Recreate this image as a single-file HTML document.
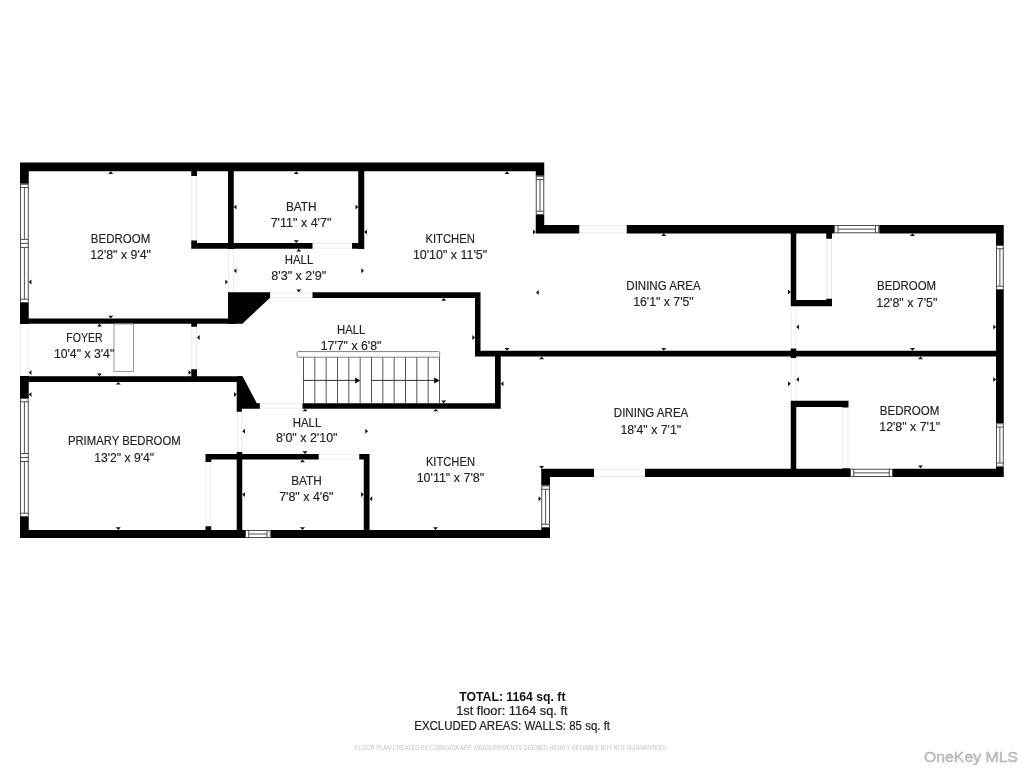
<!DOCTYPE html><html><head><meta charset="utf-8"><style>html,body{margin:0;padding:0;background:#fff;}svg{display:block;will-change:transform;}text{font-family:"Liberation Sans",sans-serif;}</style></head><body>
<svg width="1024" height="768" viewBox="0 0 1024 768">
<rect x="0" y="0" width="1024" height="768" fill="#fff"/>
<path d="M20.5 324V376M28.25 324V376" stroke="#ebebeb" stroke-width="1" fill="none"/>
<path d="M191.75 176V240.5M196.5 176V240.5" stroke="#ebebeb" stroke-width="1" fill="none"/>
<path d="M228.5 249V292.2M233.25 249V292.2" stroke="#ebebeb" stroke-width="1" fill="none"/>
<path d="M270.1 292.7H312.5M270.1 297.5H312.5" stroke="#ebebeb" stroke-width="1" fill="none"/>
<path d="M312.5 243.5H352M312.5 248.25H352" stroke="#ebebeb" stroke-width="1" fill="none"/>
<path d="M579.25 225.5H626.75M579.25 232.75H626.75" stroke="#ebebeb" stroke-width="1" fill="none"/>
<path d="M191.75 326.8V369.2M196.5 326.8V369.2" stroke="#ebebeb" stroke-width="1" fill="none"/>
<path d="M259.85 403.8H302.5M259.85 408.15H302.5" stroke="#ebebeb" stroke-width="1" fill="none"/>
<path d="M237.2 411.7V452M241.75 411.7V452" stroke="#ebebeb" stroke-width="1" fill="none"/>
<path d="M318.75 454.4H359.25M318.75 459H359.25" stroke="#ebebeb" stroke-width="1" fill="none"/>
<path d="M206 462V526.25M210.75 462V526.25" stroke="#ebebeb" stroke-width="1" fill="none"/>
<path d="M826.75 238.75V298.75M831.5 238.75V298.75" stroke="#ebebeb" stroke-width="1" fill="none"/>
<path d="M791.25 306.25V348.5M795.75 306.25V348.5" stroke="#ebebeb" stroke-width="1" fill="none"/>
<path d="M791.25 358V400.75M795.75 358V400.75" stroke="#ebebeb" stroke-width="1" fill="none"/>
<path d="M842.75 407.5V468.25M848 407.5V468.25" stroke="#ebebeb" stroke-width="1" fill="none"/>
<path d="M594 469.25H645M594 476.5H645" stroke="#ebebeb" stroke-width="1" fill="none"/>
<path d="M20 162.5H544.25V171.25H20ZM20 162.5H28.75V183.75H20ZM20 303H28.75V324H20ZM20 376H28.75V398H20ZM20 517H28.75V538H20ZM20 530H245V538H20ZM270.75 530H550V538H270.75ZM535.75 162.5H544.25V175.75H535.75ZM535.75 215H544.25V233.25H535.75ZM535.75 225H579.25V233.5H535.75ZM626.75 225H834.25V233.5H626.75ZM879.25 225H1003.75V233.5H879.25ZM996 225H1003.75V245H996ZM996 290H1003.75V423.25H996ZM996 466.75H1003.75V477H996ZM541.25 468.75H594V477H541.25ZM645 468.75H850V477H645ZM893 468.75H1003.75V477H893ZM541.25 468.75H550V485.5H541.25ZM541.25 528H550V538H541.25ZM20 318.5H236V323.75H20ZM228 171H233.75V249H228ZM191.25 171H197V176H191.25ZM191.25 240.5H197V248.75H191.25ZM191.25 243H312.5V248.75H191.25ZM352 243H364.25V248.75H352ZM358.25 171H364.25V249H358.25ZM312.5 292.2H480.5V298H312.5ZM475 292.2H480.5V356.25H475ZM475 350.75H996V356.5H475ZM191.25 323.75H197V326.8H191.25ZM191.25 369.2H197V376.2H191.25ZM20 376.2H242V381.9H20ZM302.5 403.3H500.75V408.65H302.5ZM495 350.75H500.75V408.65H495ZM205.5 453.9H318.75V459.5H205.5ZM359.25 453.9H369.5V459.5H359.25ZM205.5 453.9H211.25V462H205.5ZM205.5 526.25H211.25V530H205.5ZM236.7 452H242.25V538H236.7ZM363.75 453.9H369.5V538H363.75ZM790.75 225H796.25V306.25H790.75ZM790.75 300H832V306.25H790.75ZM826.25 233H832V238.75H826.25ZM826.25 298.75H832V306.25H826.25ZM790.75 348.5H796.25V358H790.75ZM790.75 400.75H848.5V407H790.75ZM790.75 400.75H796.25V477H790.75ZM842.25 400.75H848.5V407.5H842.25ZM842.25 468.25H850V477H842.25Z" fill="#000"/>
<polygon points="228,292.2 270.1,292.2 270.1,297.7 242.3,323.75 228,323.75" fill="#000"/>
<polygon points="236.7,376.2 242.6,376.2 256.8,403.3 259.85,403.3 259.85,408.65 241.9,408.65 241.9,411.7 236.7,411.7" fill="#000"/>
<rect x="20.5" y="184.25" width="7.75" height="118.25" fill="#fff" stroke="#4d4d4d" stroke-width="1"/>
<path d="M20 187.5H28.75M20 299.25H28.75M20 239.4H28.75M20 243.4H28.75M20 247.4H28.75" stroke="#4d4d4d" stroke-width="1"/>
<path d="M24.38 187.5V239.4" stroke="#4d4d4d" stroke-width="1"/>
<path d="M24.38 247.4V299.25" stroke="#4d4d4d" stroke-width="1"/>
<rect x="20.5" y="398.5" width="7.75" height="118" fill="#fff" stroke="#4d4d4d" stroke-width="1"/>
<path d="M20 401.75H28.75M20 513.25H28.75M20 453.5H28.75M20 457.5H28.75M20 461.5H28.75" stroke="#4d4d4d" stroke-width="1"/>
<path d="M24.38 401.75V453.5" stroke="#4d4d4d" stroke-width="1"/>
<path d="M24.38 461.5V513.25" stroke="#4d4d4d" stroke-width="1"/>
<rect x="536.25" y="176.25" width="7.5" height="38.25" fill="#fff" stroke="#4d4d4d" stroke-width="1"/>
<path d="M535.75 179.5H544.25M535.75 211.25H544.25" stroke="#4d4d4d" stroke-width="1"/>
<path d="M540 179.5V211.25" stroke="#4d4d4d" stroke-width="1"/>
<rect x="834.75" y="225.5" width="44" height="7.25" fill="#fff" stroke="#4d4d4d" stroke-width="1"/>
<path d="M838 225V233.25M875.5 225V233.25" stroke="#4d4d4d" stroke-width="1"/>
<path d="M838 229.12H875.5" stroke="#4d4d4d" stroke-width="1"/>
<rect x="996.5" y="245.5" width="6.75" height="44" fill="#fff" stroke="#4d4d4d" stroke-width="1"/>
<path d="M996 248.75H1003.75M996 286.25H1003.75" stroke="#4d4d4d" stroke-width="1"/>
<path d="M999.88 248.75V286.25" stroke="#4d4d4d" stroke-width="1"/>
<rect x="996.5" y="423.75" width="6.75" height="42.5" fill="#fff" stroke="#4d4d4d" stroke-width="1"/>
<path d="M996 427H1003.75M996 463H1003.75" stroke="#4d4d4d" stroke-width="1"/>
<path d="M999.88 427V463" stroke="#4d4d4d" stroke-width="1"/>
<rect x="850.5" y="469.25" width="42" height="7.25" fill="#fff" stroke="#4d4d4d" stroke-width="1"/>
<path d="M853.75 468.75V477M889.25 468.75V477" stroke="#4d4d4d" stroke-width="1"/>
<path d="M853.75 472.88H889.25" stroke="#4d4d4d" stroke-width="1"/>
<rect x="541.75" y="486" width="7.75" height="41.5" fill="#fff" stroke="#4d4d4d" stroke-width="1"/>
<path d="M541.25 489.25H550M541.25 524.25H550" stroke="#4d4d4d" stroke-width="1"/>
<path d="M545.62 489.25V524.25" stroke="#4d4d4d" stroke-width="1"/>
<rect x="245.5" y="530.5" width="24.75" height="7" fill="#fff" stroke="#4d4d4d" stroke-width="1"/>
<path d="M248.75 530V538M267 530V538" stroke="#4d4d4d" stroke-width="1"/>
<path d="M248.75 534H267" stroke="#4d4d4d" stroke-width="1"/>
<path d="M110.75 171.25L108.25 173.95H113.25ZM110.75 318.5L108.25 315.8H113.25ZM28.75 282L31.45 279.5V284.5ZM228 282L225.3 279.5V284.5ZM296.25 171.25L293.75 173.95H298.75ZM233.75 207L236.45 204.5V209.5ZM358.25 207L355.55 204.5V209.5ZM296.25 243L293.75 240.3H298.75ZM298.75 248.75L296.25 251.45H301.25ZM233.75 270.75L236.45 268.25V273.25ZM364 270.75L361.3 268.25V273.25ZM298.75 292.2L296.25 289.5H301.25ZM507 171.25L504.5 173.95H509.5ZM507 350.75L504.5 348.05H509.5ZM364.25 232L366.95 229.5V234.5ZM535.75 232L533.05 229.5V234.5ZM443.75 298L441.25 300.7H446.25ZM475 337.5L472.3 335V340ZM197 337.5L199.7 335V340ZM443.75 403.3L441.25 400.6H446.25ZM663.75 233.25L661.25 235.95H666.25ZM790.75 292L788.05 289.5V294.5ZM536 292.5L538.7 290V295ZM663.75 350.75L661.25 348.05H666.25ZM912.5 233.25L910 235.95H915ZM796.25 327L798.95 324.5V329.5ZM996 327L993.3 324.5V329.5ZM912.5 350.75L910 348.05H915ZM99.5 323.75L97 326.45H102ZM99.5 376.2L97 373.5H102ZM28.75 372.5L31.45 370V375ZM191.25 372.5L188.55 370V375ZM118.25 381.9L115.75 384.6H120.75ZM28.75 394.5L31.45 392V397ZM236.7 394.5L234 392V397ZM118.25 530L115.75 527.3H120.75ZM305 408.65L302.5 411.35H307.5ZM242.25 431.25L244.95 428.75V433.75ZM368 431.25L365.3 428.75V433.75ZM305 453.9L302.5 451.2H307.5ZM302.5 459.5L300 462.2H305ZM242.25 494.5L244.95 492V497ZM363.75 494.5L361.05 492V497ZM302.5 530L300 527.3H305ZM435.75 408.65L433.25 411.35H438.25ZM369.5 498.75L372.2 496.25V501.25ZM541.25 498.75L538.55 496.25V501.25ZM435.5 530L433 527.3H438ZM541.6 356.5L539.1 359.2H544.1ZM500.75 383.75L503.45 381.25V386.25ZM790.75 383.75L788.05 381.25V386.25ZM541.6 468.75L539.1 466.05H544.1ZM920.5 356.5L918 359.2H923ZM796.25 379.5L798.95 377V382ZM996 379.5L993.3 377V382ZM920.5 468.25L918 465.55H923Z" fill="#111"/>
<rect x="114" y="324" width="19.5" height="47.5" fill="none" stroke="#9a9a9a" stroke-width="1"/>
<rect x="297.1" y="351.6" width="142.6" height="5.6" rx="1" fill="#fff" stroke="#808080" stroke-width="1"/>
<path d="M303.5 357.2V403.3M314.83 357.2V403.3M326.17 357.2V403.3M337.5 357.2V403.3M348.83 357.2V403.3M360.17 357.2V403.3M371.5 357.2V403.3M382.83 357.2V403.3M394.17 357.2V403.3M405.5 357.2V403.3M416.83 357.2V403.3M428.17 357.2V403.3M439.5 357.2V403.3" stroke="#555" stroke-width="1"/>
<path d="M303.5 380.4H356M371.5 380.4H435" stroke="#333" stroke-width="1"/>
<polygon points="355.1,377.6 360.2,380.4 355.1,383.4" fill="#000"/>
<polygon points="434.2,377.6 439.7,380.4 434.2,383.4" fill="#000"/>
<text x="90.84" y="242.8" font-size="12.2" fill="#222" stroke="#222" stroke-width="0.15" textLength="59.4" lengthAdjust="spacingAndGlyphs">BEDROOM</text>
<text x="90.2" y="258.75" font-size="12.2" fill="#222" stroke="#222" stroke-width="0.15" textLength="60.8" lengthAdjust="spacingAndGlyphs">12'8&quot; x 9'4&quot;</text>
<text x="285.9" y="210.6" font-size="12.2" fill="#222" stroke="#222" stroke-width="0.15" textLength="30.75" lengthAdjust="spacingAndGlyphs">BATH</text>
<text x="270.65" y="226.9" font-size="12.2" fill="#222" stroke="#222" stroke-width="0.15" textLength="60.8" lengthAdjust="spacingAndGlyphs">7'11&quot; x 4'7&quot;</text>
<text x="284.8" y="264.4" font-size="12.2" fill="#222" stroke="#222" stroke-width="0.15" textLength="28.5" lengthAdjust="spacingAndGlyphs">HALL</text>
<text x="271.3" y="280" font-size="12.2" fill="#222" stroke="#222" stroke-width="0.15" textLength="54.9" lengthAdjust="spacingAndGlyphs">8'3&quot; x 2'9&quot;</text>
<text x="425.4" y="242.75" font-size="12.2" fill="#222" stroke="#222" stroke-width="0.15" textLength="49.4" lengthAdjust="spacingAndGlyphs">KITCHEN</text>
<text x="412.9" y="258.75" font-size="12.2" fill="#222" stroke="#222" stroke-width="0.15" textLength="74.2" lengthAdjust="spacingAndGlyphs">10'10&quot; x 11'5&quot;</text>
<text x="626.3" y="289.75" font-size="12.2" fill="#222" stroke="#222" stroke-width="0.15" textLength="74.35" lengthAdjust="spacingAndGlyphs">DINING AREA</text>
<text x="633.15" y="306" font-size="12.2" fill="#222" stroke="#222" stroke-width="0.15" textLength="60.55" lengthAdjust="spacingAndGlyphs">16'1&quot; x 7'5&quot;</text>
<text x="877" y="290.2" font-size="12.2" fill="#222" stroke="#222" stroke-width="0.15" textLength="59.15" lengthAdjust="spacingAndGlyphs">BEDROOM</text>
<text x="876.3" y="306.6" font-size="12.2" fill="#222" stroke="#222" stroke-width="0.15" textLength="61" lengthAdjust="spacingAndGlyphs">12'8&quot; x 7'5&quot;</text>
<text x="66.3" y="342.3" font-size="12.2" fill="#222" stroke="#222" stroke-width="0.15" textLength="36.2" lengthAdjust="spacingAndGlyphs">FOYER</text>
<text x="53.9" y="358.4" font-size="12.2" fill="#222" stroke="#222" stroke-width="0.15" textLength="60.4" lengthAdjust="spacingAndGlyphs">10'4&quot; x 3'4&quot;</text>
<text x="337" y="333.8" font-size="12.2" fill="#222" stroke="#222" stroke-width="0.15" textLength="28.4" lengthAdjust="spacingAndGlyphs">HALL</text>
<text x="320.7" y="350" font-size="12.2" fill="#222" stroke="#222" stroke-width="0.15" textLength="60.75" lengthAdjust="spacingAndGlyphs">17'7&quot; x 6'8&quot;</text>
<text x="292.7" y="426.7" font-size="12.2" fill="#222" stroke="#222" stroke-width="0.15" textLength="28.6" lengthAdjust="spacingAndGlyphs">HALL</text>
<text x="276.1" y="442.3" font-size="12.2" fill="#222" stroke="#222" stroke-width="0.15" textLength="61.4" lengthAdjust="spacingAndGlyphs">8'0&quot; x 2'10&quot;</text>
<text x="67.9" y="445.1" font-size="12.2" fill="#222" stroke="#222" stroke-width="0.15" textLength="112.75" lengthAdjust="spacingAndGlyphs">PRIMARY BEDROOM</text>
<text x="94.15" y="461.5" font-size="12.2" fill="#222" stroke="#222" stroke-width="0.15" textLength="60.05" lengthAdjust="spacingAndGlyphs">13'2&quot; x 9'4&quot;</text>
<text x="291.15" y="484.5" font-size="12.2" fill="#222" stroke="#222" stroke-width="0.15" textLength="30.65" lengthAdjust="spacingAndGlyphs">BATH</text>
<text x="279.2" y="500.5" font-size="12.2" fill="#222" stroke="#222" stroke-width="0.15" textLength="54.3" lengthAdjust="spacingAndGlyphs">7'8&quot; x 4'6&quot;</text>
<text x="425.9" y="465.5" font-size="12.2" fill="#222" stroke="#222" stroke-width="0.15" textLength="49.1" lengthAdjust="spacingAndGlyphs">KITCHEN</text>
<text x="416.65" y="481.75" font-size="12.2" fill="#222" stroke="#222" stroke-width="0.15" textLength="67.55" lengthAdjust="spacingAndGlyphs">10'11&quot; x 7'8&quot;</text>
<text x="613.8" y="417.4" font-size="12.2" fill="#222" stroke="#222" stroke-width="0.15" textLength="74.5" lengthAdjust="spacingAndGlyphs">DINING AREA</text>
<text x="620.4" y="433.6" font-size="12.2" fill="#222" stroke="#222" stroke-width="0.15" textLength="60.8" lengthAdjust="spacingAndGlyphs">18'4&quot; x 7'1&quot;</text>
<text x="879.8" y="414.5" font-size="12.2" fill="#222" stroke="#222" stroke-width="0.15" textLength="59.5" lengthAdjust="spacingAndGlyphs">BEDROOM</text>
<text x="879.3" y="430.8" font-size="12.2" fill="#222" stroke="#222" stroke-width="0.15" textLength="60.8" lengthAdjust="spacingAndGlyphs">12'8&quot; x 7'1&quot;</text>
<text x="459.25" y="700.5" font-size="12.8" font-weight="bold" fill="#111" textLength="106.25" lengthAdjust="spacingAndGlyphs">TOTAL: 1164 sq. ft</text>
<text x="456.25" y="715" font-size="12.8" fill="#222" stroke="#222" stroke-width="0.22" textLength="111.25" lengthAdjust="spacingAndGlyphs">1st floor: 1164 sq. ft</text>
<text x="414.25" y="730" font-size="12.8" fill="#222" stroke="#222" stroke-width="0.22" textLength="195.75" lengthAdjust="spacingAndGlyphs">EXCLUDED AREAS: WALLS: 85 sq. ft</text>
<text x="355" y="749.5" font-size="6.6" fill="#c4c4c4" textLength="313" lengthAdjust="spacingAndGlyphs">FLOOR PLAN CREATED BY CUBICASA APP. MEASUREMENTS DEEMED HIGHLY RELIABLE BUT NOT GUARANTEED.</text>
<text x="924" y="762.25" font-size="15.5" fill="#c6c6c6" stroke="#a0a0a0" stroke-width="0.35" textLength="94" lengthAdjust="spacingAndGlyphs">OneKey MLS</text>
</svg></body></html>
